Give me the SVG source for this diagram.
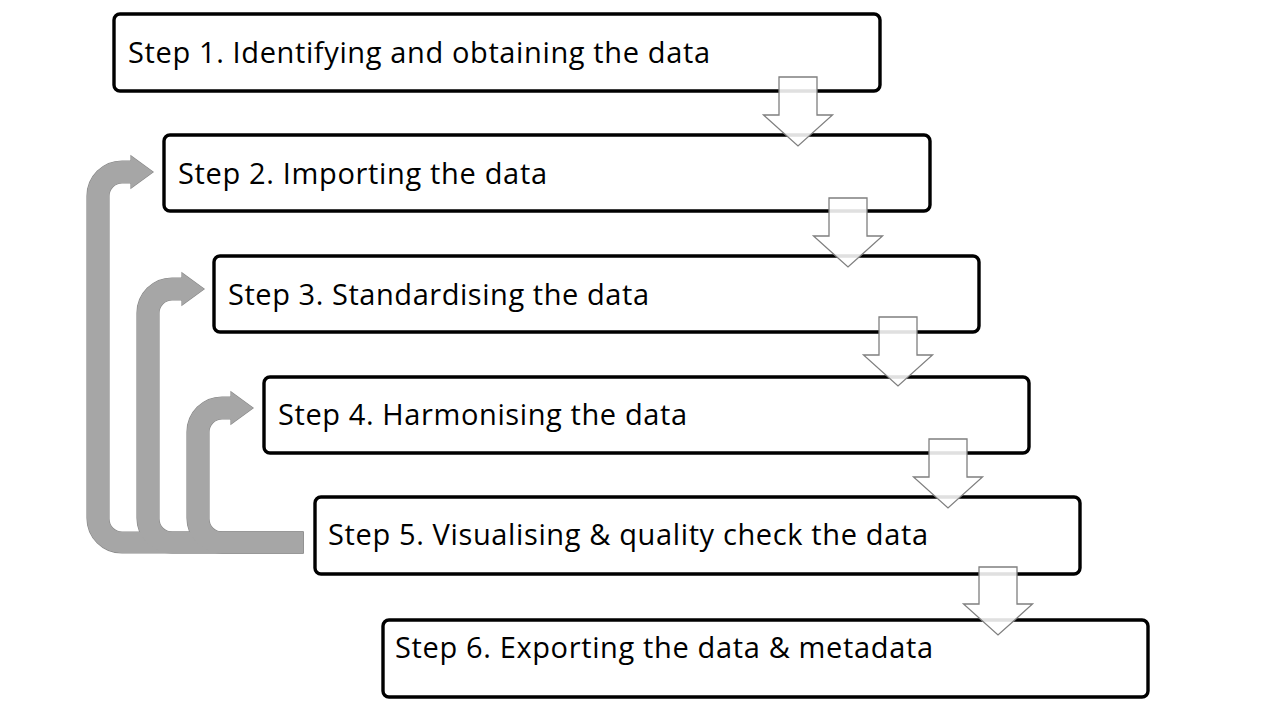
<svg xmlns="http://www.w3.org/2000/svg" xmlns:xlink="http://www.w3.org/1999/xlink" width="1280" height="720" viewBox="0 0 1280 720">
  <style>
    .box { fill: #ffffff; stroke: #000000; stroke-width: 3.4; }
    .label { font-family: "Open Sans", "Liberation Sans", sans-serif; font-size: 29px; fill: #000000; }
    .down { fill: #ffffff; fill-opacity: 0.88; stroke: #7f7f7f; stroke-width: 1.3; stroke-linejoin: miter; }
    .fb-line { fill: #a6a6a6; stroke: #8a8a8a; stroke-width: 1.2; }
    .fb-fill { fill: #a6a6a6; stroke: none; }
  </style>
  <defs>
    <path id="u1" d="M303,553 H122 A35,35 0 0 1 87,518 V196 A35,35 0 0 1 122,161 H131 V156 L153,172 L131,188 V183 H122 A13,13 0 0 0 109,196 V519 A13,13 0 0 0 122,532 H303 Z"/>
    <path id="u2" d="M303,553 H172 A35,35 0 0 1 137,518 V313 A35,35 0 0 1 172,278 H182 V273 L204,289 L182,305 V300 H172 A13,13 0 0 0 159,313 V519 A13,13 0 0 0 172,532 H303 Z"/>
    <path id="u3" d="M303,553 H222 A35,35 0 0 1 187,518 V432 A35,35 0 0 1 222,397 H231 V392 L253,408 L231,424 V419 H222 A13,13 0 0 0 209,432 V519 A13,13 0 0 0 222,532 H303 Z"/>
  </defs>

  <g id="connectors">
    <g id="feedback">
      <use xlink:href="#u1" href="#u1" class="fb-line"/>
      <use xlink:href="#u2" href="#u2" class="fb-line"/>
      <use xlink:href="#u3" href="#u3" class="fb-line"/>
      <use xlink:href="#u1" href="#u1" class="fb-fill"/>
      <use xlink:href="#u2" href="#u2" class="fb-fill"/>
      <use xlink:href="#u3" href="#u3" class="fb-fill"/>
    </g>
  </g>

  <g id="step1">
    <rect class="box" x="114" y="14" width="766" height="77" rx="6"/>
    <text class="label" x="128" y="63" textLength="582">Step 1. Identifying and obtaining the data</text>
  </g>
  <g id="step2">
    <rect class="box" x="164" y="135" width="766" height="76" rx="6"/>
    <text class="label" x="178" y="184" textLength="369">Step 2. Importing the data</text>
  </g>
  <g id="step3">
    <rect class="box" x="214" y="256" width="765" height="76" rx="6"/>
    <text class="label" x="228" y="305" textLength="421">Step 3. Standardising the data</text>
  </g>
  <g id="step4">
    <rect class="box" x="264" y="377" width="765" height="76" rx="6"/>
    <text class="label" x="278" y="425" textLength="409">Step 4. Harmonising the data</text>
  </g>
  <g id="step5">
    <rect class="box" x="315" y="497" width="765" height="77" rx="6"/>
    <text class="label" x="328" y="545" textLength="600">Step 5. Visualising &amp; quality check the data</text>
  </g>
  <g id="step6">
    <rect class="box" x="383" y="620" width="765" height="77" rx="6"/>
    <text class="label" x="395" y="658" textLength="538">Step 6. Exporting the data &amp; metadata</text>
  </g>

  <g id="flow-arrows">
    <path class="down" d="M779,77 H817 V115 H832.5 L798,146 L763.5,115 H779 Z"/>
    <path class="down" d="M829,198 H867 V236 H882.5 L848,267 L813.5,236 H829 Z"/>
    <path class="down" d="M879,317 H917 V355 H932.5 L898,386 L863.5,355 H879 Z"/>
    <path class="down" d="M929,439 H967 V477 H982.5 L948,508 L913.5,477 H929 Z"/>
    <path class="down" d="M979,567 H1017 V604 H1032.5 L998,635 L963.5,604 H979 Z"/>
  </g>
</svg>
